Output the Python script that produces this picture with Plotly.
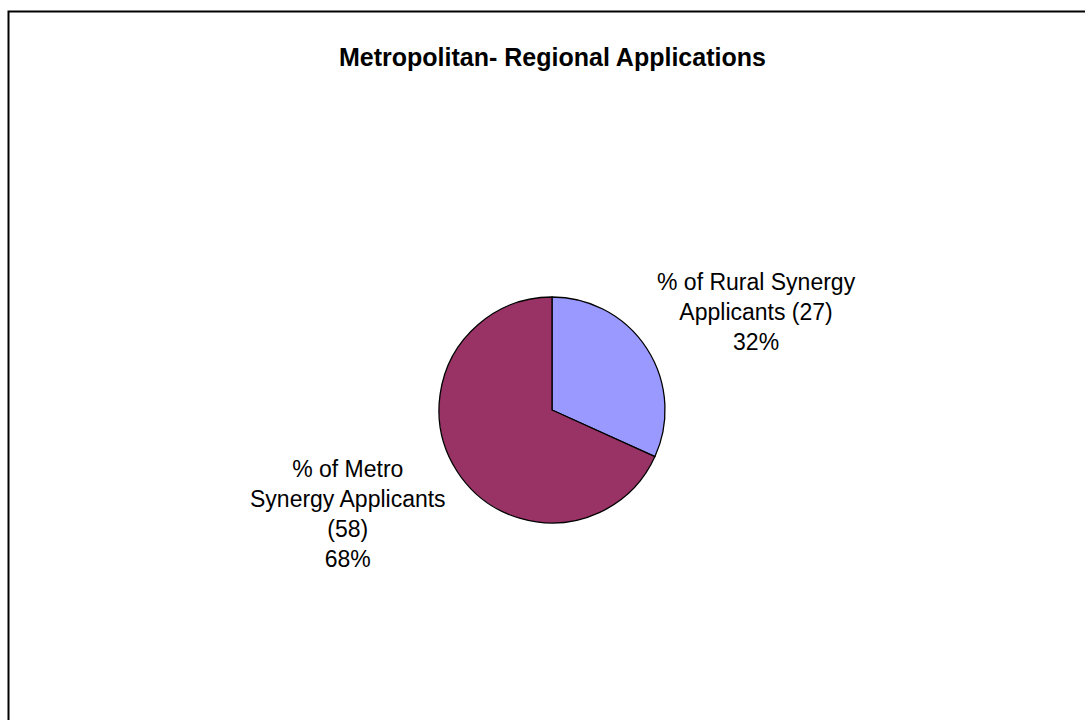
import plotly.graph_objects as go

W, H = 1085, 720

title_text = "Metropolitan- Regional Applications"
categories = ["% of Rural Synergy Applicants", "% of Metro Synergy Applicants"]
counts = [27, 58]
colors = ["#9999FF", "#993366"]
# label text lines (as displayed in the chart)
label_lines = [
    ["% of Rural Synergy", "Applicants (27)"],
    ["% of Metro", "Synergy Applicants", "(58)"],
]

total = sum(counts)
pcts = [round(100 * c / total) for c in counts]

fig = go.Figure()
fig.add_trace(go.Pie(
    labels=categories,
    values=counts,
    sort=False,
    direction="clockwise",
    rotation=0,
    marker=dict(colors=colors, line=dict(color="black", width=1.3)),
    textinfo="none",
    hoverinfo="label+value+percent",
    showlegend=False,
    domain=dict(x=[439 / W, 665 / W], y=[1 - 523 / H, 1 - 297 / H]),
))

# label positions (pixel centres)
label_pos = [(756, 312), (348, 514)]
for lines, pct, (px, py) in zip(label_lines, pcts, label_pos):
    fig.add_annotation(
        x=px / W, y=1 - py / H, xref="paper", yref="paper",
        text="<br>".join(lines + [f"{pct}%"]),
        showarrow=False, align="center",
        xanchor="center", yanchor="middle",
        font=dict(family="Liberation Sans, Arial, sans-serif", size=23, color="black"),
    )

fig.add_annotation(
    x=552 / W, y=1 - 57 / H, xref="paper", yref="paper",
    text=f"<b>{title_text}</b>", showarrow=False,
    xanchor="center", yanchor="middle",
    font=dict(family="Liberation Sans, Arial, sans-serif", size=25, color="black"),
)

fig.add_shape(
    type="rect", xref="paper", yref="paper",
    x0=8.5 / W, x1=1.2, y0=-0.2, y1=1 - 11.5 / H,
    line=dict(color="black", width=2), fillcolor="rgba(0,0,0,0)",
)

fig.update_layout(
    width=W, height=H,
    margin=dict(l=0, r=0, t=0, b=0),
    paper_bgcolor="white", plot_bgcolor="white",
)

fig.write_html("out.html")
